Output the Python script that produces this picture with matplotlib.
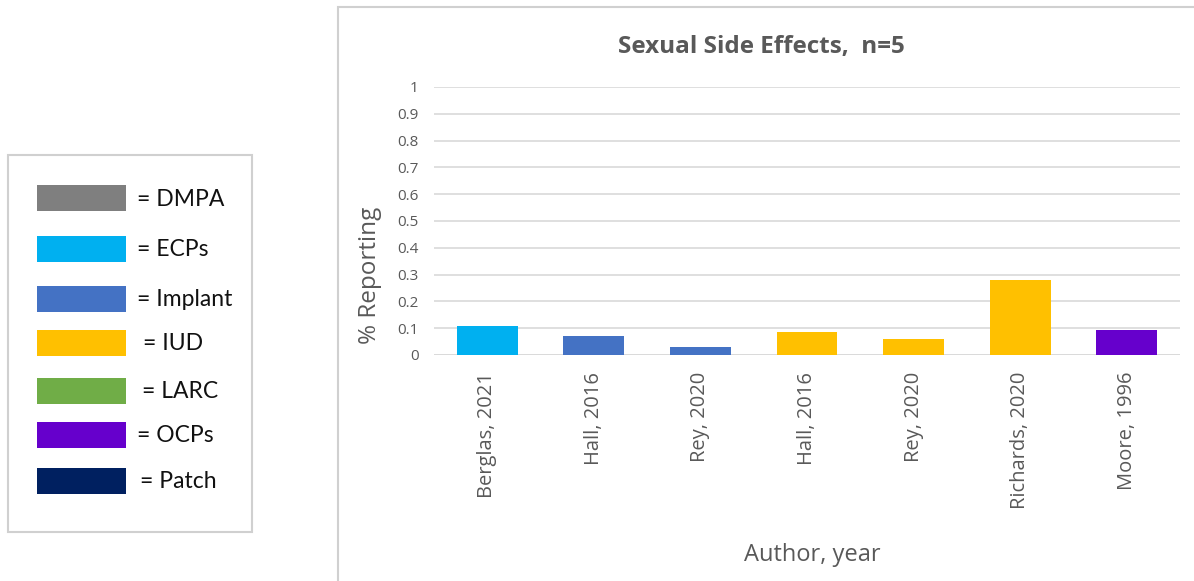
import matplotlib
matplotlib.use("Agg")
import matplotlib.pyplot as plt
from matplotlib.patches import Rectangle

W, H = 1194, 581
DPI = 100

# Data
authors = ["Berglas, 2021", "Hall, 2016", "Rey, 2020", "Hall, 2016",
           "Rey, 2020", "Richards, 2020", "Moore, 1996"]
methods = ["ECPs", "Implant", "Implant", "IUD", "IUD", "IUD", "OCPs"]
reporting = [0.11, 0.07, 0.03, 0.085, 0.06, 0.28, 0.095]

legend_methods = ["DMPA", "ECPs", "Implant", "IUD", "LARC", "OCPs", "Patch"]
method_colors = {
    "DMPA": "#7F7F7F",
    "ECPs": "#00B0F0",
    "Implant": "#4472C4",
    "IUD": "#FFC000",
    "LARC": "#70AD47",
    "OCPs": "#6600CC",
    "Patch": "#002060",
}

y_ticks = [0, 0.1, 0.2, 0.3, 0.4, 0.5, 0.6, 0.7, 0.8, 0.9, 1]
y_tick_labels = ["0", "0.1", "0.2", "0.3", "0.4", "0.5", "0.6", "0.7", "0.8", "0.9", "1"]

TEXT_GRAY = "#595959"
GRID_GRAY = "#D9D9D9"


def fx(px):
    return px / W


def fy(py):
    return 1 - py / H


fig = plt.figure(figsize=(W / DPI, H / DPI), dpi=DPI)
fig.patch.set_facecolor("white")

# Chart frame
fig.patches.append(Rectangle((fx(338), fy(600)), fx(900), (600 - 7) / H,
                             transform=fig.transFigure, fill=False,
                             edgecolor="#D0D0D0", linewidth=1.5))

# Plot area
ax = fig.add_axes([fx(434), fy(355), (1180 - 434) / W, (355 - 87) / H])
x = list(range(len(authors)))
ax.bar(x, reporting, width=0.57, color=[method_colors[m] for m in methods], zorder=3)
ax.set_xlim(-0.5, len(authors) - 0.5)
ax.set_ylim(0, 1)
ax.set_yticks(y_ticks)
ax.set_yticklabels(y_tick_labels, family="Open Sans", fontsize=11, color=TEXT_GRAY)
ax.set_xticks(x)
ax.set_xticklabels(authors, rotation=90, family="Open Sans", fontsize=14.5, color=TEXT_GRAY)
ax.tick_params(axis="y", length=0, pad=11)
ax.tick_params(axis="x", length=0, pad=12)
ax.grid(axis="y", color=GRID_GRAY, linewidth=1.2, zorder=0)
for s in ax.spines.values():
    s.set_visible(False)
ax.axhline(0, color=GRID_GRAY, linewidth=1.2, zorder=2)

fig.text(fx(761), fy(47), "Sexual Side Effects,  n=5", ha="center", va="center",
         family="Open Sans", fontsize=17.5, fontweight="bold", color=TEXT_GRAY)
fig.text(fx(370), fy(275), "% Reporting", ha="center", va="center", rotation=90,
         family="Open Sans", fontsize=17.5, color=TEXT_GRAY)
fig.text(fx(812), fy(555), "Author, year", ha="center", va="center",
         family="Open Sans", fontsize=17, color=TEXT_GRAY)

# Colour key box
fig.patches.append(Rectangle((fx(8), fy(532)), (252 - 8) / W, (532 - 155) / H,
                             transform=fig.transFigure, fill=False,
                             edgecolor="#D0D0D0", linewidth=1.5))
key_rows = [185, 236, 286, 330, 378, 422, 468]
key_text_x = [137, 137, 137, 143, 142, 137, 140]
for top, tx, name in zip(key_rows, key_text_x, legend_methods):
    fig.patches.append(Rectangle((fx(37), fy(top + 26)), (126 - 37) / W, 26 / H,
                                 transform=fig.transFigure,
                                 facecolor=method_colors[name], edgecolor="none"))
    fig.text(fx(tx), fy(top + 14), "= " + name, ha="left", va="center",
             family="Lato", fontsize=16.5, color="#111111")

fig.savefig("out.png", dpi=DPI)
